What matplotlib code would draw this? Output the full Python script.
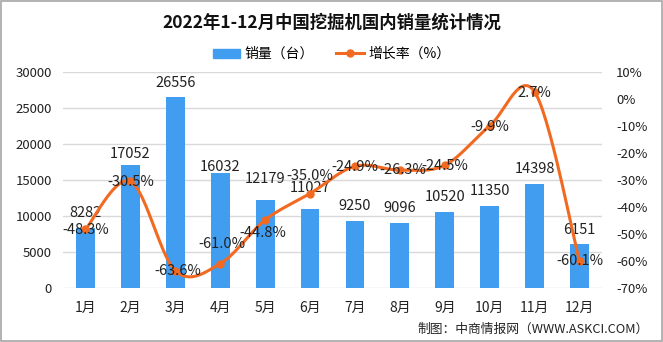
import numpy as np
import matplotlib
matplotlib.use('Agg')
import matplotlib.pyplot as plt
from matplotlib.patches import Rectangle, Patch
from matplotlib.lines import Line2D

plt.rcParams['font.family'] = ['Noto Sans CJK SC', 'DejaVu Sans']

# data
months = ['1月', '2月', '3月', '4月', '5月', '6月', '7月', '8月', '9月', '10月', '11月', '12月']
sales = [8282, 17052, 26556, 16032, 12179, 11027, 9250, 9096, 10520, 11350, 14398, 6151]
growth = [-48.3, -30.5, -63.6, -61.0, -44.8, -35.0, -24.9, -26.3, -24.5, -9.9, 2.7, -60.1]

# label nudges in pixels (the original chart shifts a few labels to dodge others)
bar_lab_dy = [15, 11, 14, 6, 21, 21, 15, 15, 15, 15, 15, 14]
line_lab_dx = [0, 0, 3, 2, -2, 0, 0, 3, 0, 0, 0, 0]
line_lab_dy = [-1, -1, 0, 20, -13, 18, -1, 0, -1, -1, -1, 0]

bar_color = '#419DF0'
line_color = '#F26A21'
text_color = '#222222'


def smooth(xs, ys, n=30):
    # catmull-rom style smoothing (like the office chart "smoothed line")
    xs = np.asarray(xs, float)
    ys = np.asarray(ys, float)
    px = np.concatenate(([xs[0]], xs, [xs[-1]]))
    py = np.concatenate(([ys[0]], ys, [ys[-1]]))
    outx, outy = [], []
    t = np.linspace(0, 1, n)
    for i in range(1, len(px) - 2):
        p0x, p1x, p2x, p3x = px[i-1], px[i], px[i+1], px[i+2]
        p0y, p1y, p2y, p3y = py[i-1], py[i], py[i+1], py[i+2]
        c1x, c1y = p1x + (p2x - p0x) / 6, p1y + (p2y - p0y) / 6
        c2x, c2y = p2x - (p3x - p1x) / 6, p2y - (p3y - p1y) / 6
        bx = (1-t)**3*p1x + 3*(1-t)**2*t*c1x + 3*(1-t)*t**2*c2x + t**3*p2x
        by = (1-t)**3*p1y + 3*(1-t)**2*t*c1y + 3*(1-t)*t**2*c2y + t**3*p2y
        outx.extend(bx)
        outy.extend(by)
    return np.array(outx), np.array(outy)


px2pt = 0.72  # 100 dpi
fig = plt.figure(figsize=(6.63, 3.42), dpi=100)
ax = fig.add_axes([0.095, 0.158, 0.813, 0.631])
x = np.arange(len(months))

ax.bar(x, sales, width=0.42, color=bar_color, zorder=2)
ax.set_ylim(0, 30000)
ax.set_xlim(-0.5, len(months) - 0.5)
ax.set_yticks(np.arange(0, 30001, 5000))
ax.yaxis.grid(True, color='#D9D9D9', linewidth=1)
ax.set_axisbelow(True)
for s in ax.spines.values():
    s.set_visible(False)
ax.tick_params(length=0, labelsize=9.5, colors=text_color)
ax.tick_params(axis='y', pad=8)
ax.tick_params(axis='x', pad=9)
ax.set_xticks(x)
ax.set_xticklabels(months, fontsize=10)

for xi, v, dy in zip(x, sales, bar_lab_dy):
    ax.annotate(str(v), (xi, v), xytext=(0, dy * px2pt), textcoords='offset points',
                ha='center', va='center', fontsize=10.5, color=text_color)

ax2 = ax.twinx()
ax2.set_ylim(-70, 10)
ax2.set_yticks(np.arange(-70, 11, 10))
ax2.set_yticklabels([f'{v}%' for v in range(-70, 11, 10)])
for s in ax2.spines.values():
    s.set_visible(False)
ax2.tick_params(length=0, labelsize=9.5, colors=text_color, pad=10)

sx, sy = smooth(x, growth)
ax2.plot(sx, sy, color=line_color, linewidth=2.2, zorder=3)
ax2.plot(x, growth, 'o', color=line_color, markersize=5, zorder=4)
for xi, v, dx, dy in zip(x, growth, line_lab_dx, line_lab_dy):
    ax2.annotate(f'{v:.1f}%', (xi, v), xytext=(dx * px2pt, dy * px2pt),
                 textcoords='offset points', ha='center', va='center',
                 fontsize=10.5, color=text_color, zorder=5)

fig.text(0.5, 0.933, '2022年1-12月中国挖掘机国内销量统计情况', ha='center', va='center',
         fontsize=12.5, fontweight='bold', color='#111111')

handles = [Patch(color=bar_color),
           Line2D([0], [0], color=line_color, linewidth=2.2, marker='o', markersize=5)]
fig.legend(handles, ['销量（台）', '增长率（%）'], loc='center', bbox_to_anchor=(0.5, 0.842),
           ncol=2, frameon=False, fontsize=10, handlelength=2.0, handleheight=0.6,
           columnspacing=1.6, handletextpad=0.3)

fig.text(0.978, 0.038, '制图：中商情报网（WWW.ASKCI.COM）', ha='right', va='center',
         fontsize=9.2, color=text_color)

fig.patches.append(Rectangle((0.001, 0.002), 0.997, 0.995, transform=fig.transFigure,
                             fill=False, edgecolor='#A6A6A6', linewidth=1.2))

fig.savefig('out.png', dpi=100)
